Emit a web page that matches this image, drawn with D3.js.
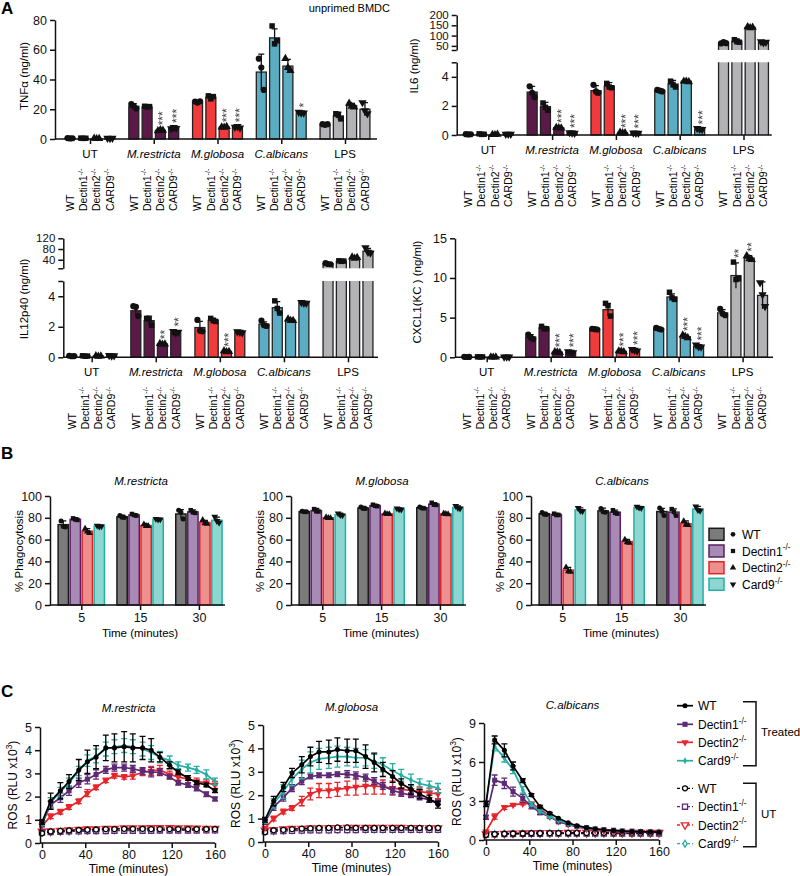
<!DOCTYPE html>
<html><head><meta charset="utf-8">
<script src="https://cdn.jsdelivr.net/npm/d3@7"></script>
<style>body{margin:0;background:#fff}svg{display:block}.stars{will-change:transform}</style>
</head><body>
<svg id="c" width="800" height="876"></svg>
<script>
// ---------------- DATA ----------------
const genotypes = ["WT","Dectin1","Dectin2","CARD9"];
const genoSup = ["","-/-","-/-","-/-"];
const stimuli = ["UT","M.restricta","M.globosa","C.albicans","LPS"];
const stimItalic = [false,true,true,true,false];

// Panel A (order: UT x4, M.restricta x4, M.globosa x4, C.albicans x4, LPS x4; WT, Dectin1, Dectin2, CARD9)
const tnfMean = [0.5,0.5,0.3,0.5, 22,21.5,5.8,7.3, 25,28,8,8, 45,68,49,17.5, 9.8,15.5,22.5,20];
const tnfSD   = [0.3,0.3,0.3,0.3, 1.8,0.5,0.7,0.8, 0.6,1.8,0.5,0.6, 12,6,4.5,1, 0.8,2.5,1.5,4.5];
const tnfPts  = [[0.6,0.4,0.5],[0.6,0.4,0.5],[0.4,0.2,0.3],[0.6,0.4,0.5],
  [23.5,22,20.5],[22,21.5,21.8],[5.5,6.2,5.8],[7,7.8,7.2],
  [25.2,24.5,25.3],[29,27,28.5],[8,7.8,8.3],[8,8.5,7.5],
  [54,48,33],[76,64,66],[54,48,46],[18,17.5,17.5],
  [10,9.5,10],[17,16,13.5],[24,22,21.5],[24.5,19,17]];
const tnfStars = ["","","","", "","","***","***", "","","***","***", "","","","*", "","","",""];

const il6Mean = [0.05,0.05,0.03,0.05, 2.95,1.95,0.5,0.15, 3.05,3.35,0.15,0.13, 3.05,3.5,3.7,0.4, 65,72,140,68];
const il6SD   = [0.02,0.05,0.02,0.02, 0.4,0.3,0.05,0.05, 0.35,0.25,0.05,0.05, 0.1,0.25,0.1,0.05, 6,12,8,6];
const il6Pts  = [[0.06,0.04,0.05],[0.08,0.04,0.05],[0.03,0.02,0.04],[0.05,0.05,0.05],
  [3.35,2.9,2.6],[2.2,1.9,1.7],[0.52,0.5,0.48],[0.17,0.15,0.13],
  [3.45,3.0,2.9],[3.55,3.3,3.25],[0.18,0.15,0.15],[0.15,0.13,0.12],
  [3.1,3.05,3.0],[3.7,3.45,3.3],[3.7,3.7,3.65],[0.45,0.4,0.38],
  [62,68,63],[80,70,68],[143,138,140],[70,66,68]];
const il6Stars = ["","","","", "","","***","***", "","","***","***", "","","","***", "","","",""];

const il12Mean = [0.08,0.08,0.08,0.1, 3.05,2.4,0.87,1.65, 1.95,2.42,0.38,1.65, 2.17,3.25,2.43,3.57, 25,35,48,72];
const il12SD   = [0.03,0.03,0.03,0.03, 0.3,0.3,0.05,0.1, 0.4,0.15,0.05,0.05, 0.15,0.4,0.1,0.05, 3,2,4,10];
const il12Pts  = [[0.1,0.07,0.08],[0.1,0.07,0.08],[0.1,0.07,0.08],[0.12,0.09,0.1],
  [3.35,3.3,2.7],[2.55,2.5,2.1],[0.9,0.85,0.87],[1.7,1.6,1.65],
  [2.45,1.75,1.7],[2.55,2.4,2.35],[0.42,0.36,0.37],[1.68,1.65,1.62],
  [2.4,2.1,2.05],[3.7,3.2,2.9],[2.5,2.4,2.4],[3.6,3.55,3.55],
  [27,24,23],[36,34,35],[50,45,48],[85,68,65]];
const il12Stars = ["","","","", "","","**","**", "","","***","", "","","","", "","","",""];

const kcMean = [0.05,0.05,0.02,0.05, 2.55,3.7,0.65,0.65, 3.55,6.0,0.75,0.9, 3.6,7.6,2.6,1.4, 5.6,10.3,12.5,7.8];
const kcSD   = [0.02,0.02,0.02,0.02, 0.3,0.2,0.1,0.1, 0.1,0.8,0.1,0.15, 0.1,0.4,0.2,0.2, 0.4,1.6,0.3,1.7];
const kcPts  = [[0.06,0.04,0.05],[0.06,0.04,0.05],[0.03,0.01,0.02],[0.06,0.04,0.05],
  [2.85,2.5,2.3],[3.9,3.6,3.6],[0.7,0.65,0.6],[0.7,0.65,0.6],
  [3.6,3.55,3.5],[6.8,6.5,5.2],[0.8,0.75,0.7],[1.0,0.9,0.8],
  [3.7,3.6,3.5],[8.2,7.5,7.3],[2.8,2.6,2.45],[1.55,1.35,1.3],
  [6.1,5.5,5.3],[12,9.8,9.9],[12.8,12.4,12.3],[9.4,7.9,6.4]];
const kcStars = ["","","","", "","","***","***", "","","***","***", "","","***","***", "","**","**",""];

// Panel B (order: 5 min x4, 15 min x4, 30 min x4; WT, Dectin1, Dectin2, Card9)
const phTimes = ["5","15","30"];
const phGenos = ["WT","Dectin1","Dectin2","Card9"];
const phMR = [73.7,78.6,67.7,72.3, 80.9,82.6,72.9,78.6, 83.5,85.4,75.7,77.7];
const phMRsd = [3.5,1.5,2.5,0.8, 1.5,1.2,1.5,0.5, 4,2,2,3];
const phMRpts = [[77,72,71.5],[79.5,78.5,78],[70,67.5,66],[72.8,72,72.2],
  [82,80.5,80.2],[83.5,82.5,82],[74,72.5,72.4],[79,78.4,78.5],
  [87,85,79],[87,85,84.5],[78,75,74.5],[81,77,75.5]];
const phMG = [85.7,86.6,80,82.9, 89,91.2,83.6,88, 89.2,92.5,83.6,89.4];
const phMGsd = [0.8,2,0.8,1.5, 1.5,1.2,0.8,0.8, 1,1.5,0.8,1.5];
const phMGpts = [[86,85.5,85.6],[88,86,85.8],[80.5,79.8,79.7],[84,82.5,82.2],
  [90,88.5,88.5],[92,91,90.6],[84,83.4,83.4],[88.6,87.8,87.6],
  [90,89,88.7],[93.8,92,91.8],[84,83.5,83.3],[90.8,89,88.5]];
const phCA = [83.7,83,32,87.2, 86.3,85.1,58.2,89.5, 85.7,85.2,74.6,88];
const phCAsd = [1.5,1,2.5,2, 2.5,2,2,0.8, 3,3,2.5,2.5];
const phCApts = [[84.8,83.2,83],[83.8,82.6,82.6],[34.5,31,30.5],[89,86.5,86],
  [88.5,85.5,85],[87,84.5,83.8],[60,57.5,57],[90.2,89.3,89],
  [89,86,82],[88,85.5,82],[77,73.5,73.3],[90.5,87,86.5]];

// Panel C
const rosTime = [0,8,17,25,34,42,50,59,67,76,84,93,101,109,118,126,135,143,152,160];
const rosSeries = ["WT","Dectin1","Dectin2","Card9"];
const mrWT = [0.9,1.8,2.25,2.65,3.15,3.5,3.7,4.1,4.1,4.15,4.1,4.1,4.0,3.7,3.35,3.05,2.8,2.6,2.5,2.25];
const mrD1 = [0.8,1.65,1.95,2.25,2.6,2.75,2.95,3.15,3.25,3.25,3.2,3.1,3.05,3.05,2.85,2.6,2.5,2.35,2.1,1.9];
const mrD2 = [0.75,1.15,1.35,1.55,1.8,2.15,2.4,2.7,2.9,2.85,2.9,3.05,3.1,3.15,2.95,2.85,2.75,2.65,2.6,2.5];
const mrC9 = [0.85,1.75,2.2,2.6,3.1,3.55,3.75,4.05,4.15,4.2,4.15,4.05,3.9,3.7,3.55,3.35,3.25,3.15,2.95,2.65];
const mrWTe = [0.1,0.35,0.35,0.3,0.45,0.5,0.5,0.55,0.6,0.65,0.6,0.5,0.5,0.2,0.15,0.1,0.1,0.08,0.08,0.08];
const mrD1e = [0.1,0.15,0.2,0.2,0.2,0.2,0.2,0.15,0.15,0.15,0.15,0.15,0.2,0.15,0.1,0.1,0.1,0.1,0.1,0.08];
const mrD2e = [0.05,0.1,0.1,0.1,0.1,0.15,0.1,0.1,0.1,0.1,0.15,0.15,0.2,0.2,0.15,0.15,0.15,0.15,0.15,0.15];
const mrC9e = [0.1,0.2,0.2,0.2,0.2,0.25,0.3,0.3,0.3,0.3,0.3,0.3,0.3,0.25,0.2,0.15,0.15,0.15,0.2,0.15];
const mrUTwt = [0.42,0.5,0.52,0.54,0.56,0.57,0.58,0.6,0.6,0.61,0.61,0.61,0.6,0.6,0.6,0.6,0.6,0.6,0.6,0.6];
const mrUTd1 = [0.45,0.47,0.48,0.5,0.5,0.51,0.52,0.52,0.53,0.53,0.53,0.53,0.53,0.54,0.54,0.54,0.54,0.54,0.55,0.55];
const mrUTd2 = [0.5,0.52,0.54,0.56,0.58,0.6,0.6,0.62,0.62,0.64,0.64,0.64,0.65,0.65,0.65,0.64,0.64,0.63,0.62,0.62];
const mrUTc9 = [0.45,0.47,0.49,0.5,0.52,0.53,0.54,0.55,0.55,0.56,0.56,0.56,0.57,0.57,0.57,0.57,0.57,0.58,0.58,0.58];

const mgWT = [0.95,1.75,2.35,2.95,3.3,3.65,3.85,3.85,3.95,3.9,3.9,3.65,3.4,3.1,2.8,2.5,2.25,2.05,1.85,1.6];
const mgD1 = [0.85,1.5,1.9,2.3,2.6,2.8,2.85,2.85,2.9,2.9,2.85,2.75,2.6,2.4,2.2,2.1,2.0,1.9,1.8,1.7];
const mgD2 = [0.6,1.0,1.3,1.45,1.75,2.05,2.2,2.2,2.25,2.3,2.35,2.4,2.4,2.35,2.3,2.25,2.2,2.15,2.1,2.05];
const mgC9 = [0.9,1.65,2.15,2.7,3.1,3.4,3.55,3.6,3.65,3.65,3.6,3.6,3.45,3.3,3.05,2.85,2.65,2.5,2.4,2.3];
const mgWTe = [0.1,0.2,0.2,0.2,0.35,0.4,0.45,0.5,0.5,0.5,0.5,0.5,0.4,0.3,0.25,0.2,0.2,0.2,0.15,0.15];
const mgD1e = [0.1,0.15,0.15,0.15,0.15,0.1,0.1,0.1,0.1,0.15,0.15,0.15,0.15,0.15,0.15,0.15,0.1,0.1,0.1,0.1];
const mgD2e = [0.05,0.1,0.1,0.1,0.2,0.25,0.3,0.3,0.3,0.3,0.35,0.35,0.35,0.3,0.3,0.25,0.25,0.2,0.2,0.2];
const mgC9e = [0.1,0.2,0.3,0.3,0.4,0.45,0.45,0.45,0.45,0.4,0.4,0.35,0.3,0.3,0.3,0.25,0.25,0.2,0.2,0.2];
const mgUTwt = [0.42,0.5,0.52,0.55,0.57,0.58,0.6,0.6,0.62,0.62,0.6,0.6,0.6,0.6,0.6,0.6,0.6,0.6,0.6,0.6];
const mgUTd1 = [0.45,0.46,0.47,0.48,0.49,0.5,0.5,0.5,0.51,0.51,0.51,0.52,0.52,0.52,0.52,0.52,0.52,0.52,0.52,0.52];
const mgUTd2 = [0.5,0.52,0.55,0.57,0.58,0.6,0.6,0.61,0.61,0.62,0.62,0.62,0.62,0.62,0.62,0.62,0.61,0.61,0.6,0.6];
const mgUTc9 = [0.45,0.47,0.49,0.5,0.5,0.52,0.52,0.53,0.53,0.53,0.54,0.54,0.54,0.54,0.54,0.55,0.55,0.55,0.55,0.55];

const caWT = [2.77,7.7,6.9,5.7,4.56,3.46,2.56,2.05,1.67,1.33,1.1,0.95,0.85,0.77,0.72,0.68,0.65,0.63,0.62,0.6];
const caD1 = [1.74,4.6,4.36,3.72,3.2,2.6,2.1,1.8,1.4,1.2,1.05,0.95,0.85,0.8,0.75,0.7,0.68,0.65,0.63,0.6];
const caD2 = [0.65,1.8,2.5,2.7,2.8,2.8,2.4,1.8,1.45,1.2,1.0,0.85,0.75,0.7,0.65,0.62,0.6,0.6,0.58,0.58];
const caC9 = [2.8,7.2,6.3,5.4,3.85,2.75,2.2,1.8,1.5,1.25,1.05,0.92,0.82,0.75,0.7,0.67,0.65,0.63,0.62,0.6];
const caWTe = [0.2,0.3,0.5,0.3,0.15,0.1,0.1,0.08,0.05,0.05,0.05,0.05,0.05,0.05,0.05,0.05,0.05,0.05,0.05,0.05];
const caD1e = [0.15,0.4,0.4,0.35,0.3,0.2,0.15,0.1,0.08,0.05,0.05,0.05,0.05,0.05,0.05,0.05,0.05,0.05,0.05,0.05];
const caD2e = [0.05,0.2,0.15,0.1,0.1,0.1,0.1,0.08,0.05,0.05,0.05,0.05,0.05,0.05,0.05,0.05,0.05,0.05,0.05,0.05];
const caC9e = [0.2,0.35,0.3,0.3,0.25,0.15,0.1,0.08,0.05,0.05,0.05,0.05,0.05,0.05,0.05,0.05,0.05,0.05,0.05,0.05];
const caUTwt = [0.4,0.45,0.48,0.5,0.5,0.52,0.52,0.53,0.53,0.54,0.54,0.54,0.55,0.55,0.55,0.55,0.55,0.55,0.55,0.55];
const caUTd1 = [0.42,0.44,0.45,0.46,0.47,0.48,0.48,0.49,0.5,0.5,0.5,0.5,0.5,0.5,0.5,0.5,0.5,0.5,0.5,0.5];
const caUTd2 = [0.45,0.48,0.5,0.52,0.53,0.54,0.55,0.56,0.56,0.57,0.57,0.57,0.57,0.57,0.57,0.57,0.57,0.57,0.57,0.57];
const caUTc9 = [0.42,0.45,0.47,0.48,0.49,0.5,0.5,0.51,0.51,0.52,0.52,0.52,0.52,0.52,0.52,0.52,0.52,0.52,0.52,0.52];

// ---------------- STYLE ----------------
const FONT = "'Liberation Sans', Arial, Helvetica, sans-serif";
const stimColors = ["#4a4a4a","#5a1947","#f03a3c","#5aadc2","#b3b3b6"];
const phFill = ["#7b7b7b","#a88bb5","#ee8f8f","#8ed6d0"];
const phStroke = ["#1a1a1a","#5a1f62","#e0252a","#24b0a5"];
const rosColors = ["#000000","#5e2a76","#e8242a","#26ada5"];
const symTypes = [d3.symbolCircle, d3.symbolSquare, d3.symbolTriangle, d3.symbolTriangle];
const symRot = [0,0,0,180];
const fmtInt = d3.format("d");

const svg = d3.select("#c").attr("font-family", FONT);

function supText(sel, base, sup, fs) {
  sel.append("tspan").text(base);
  if (sup) sel.append("tspan").attr("dy", -fs*0.42).attr("font-size", fs*0.68).text(sup);
}
function styleAxis(s, fs) {
  s.selectAll("path.domain").attr("stroke","#111").attr("stroke-width",1.5);
  s.selectAll(".tick line").attr("stroke","#111").attr("stroke-width",1.5);
  s.selectAll(".tick text").attr("font-size",fs).attr("font-family",FONT).attr("fill","#111");
}

// Panel letters
[["A",14],["B",459],["C",697]].forEach(([t,y]) =>
  svg.append("text").attr("x",1).attr("y",y).attr("font-size",17).attr("font-weight","bold").text(t));
svg.append("text").attr("x",390).attr("y",12).attr("text-anchor","end").attr("font-size",11).text("unprimed BMDC");

// ---------------- PANEL A ----------------
function cytokine(cfg) {
  const g = svg.append("g");
  const sg = svg.append("g").attr("class","stars").attr("opacity",0.99);
  const gx = d3.scalePoint().domain(stimuli).range([cfg.first, cfg.last]);
  const ix = d3.scaleBand().domain(genotypes).range([-26.6,26.6]).paddingInner(0.25).paddingOuter(0.125);
  const bw = ix.bandwidth();
  const yl = d3.scaleLinear().domain(cfg.lowDom).range(cfg.lowRange);
  const yu = cfg.upDom ? d3.scaleLinear().domain(cfg.upDom).range(cfg.upRange) : null;
  const y0 = yl(0);
  stimuli.forEach((s, si) => genotypes.forEach((k, ki) => {
    const i = si*4 + ki;
    const m = cfg.mean[i], sd = cfg.sd[i];
    const x = gx(s) + ix(k), cx = x + bw/2;
    const col = stimColors[si];
    const broken = yu && m > cfg.lowDom[1];
    const ys = broken ? yu : yl;
    if (broken) {
      const yt = yl(cfg.lowDom[1]);
      g.append("rect").attr("x",x).attr("y",yt).attr("width",bw).attr("height",y0-yt).attr("fill",col);
      g.append("path").attr("d",`M${x},${yt}V${y0}M${x+bw},${yt}V${y0}`).attr("stroke","#222").attr("stroke-width",1.3).attr("fill","none");
      const ut = yu(m), ub = yu(cfg.upDom[0]);
      g.append("rect").attr("x",x).attr("y",ut).attr("width",bw).attr("height",ub-ut).attr("fill",col);
      g.append("path").attr("d",`M${x},${ub}V${ut}H${x+bw}V${ub}`).attr("stroke","#222").attr("stroke-width",1.3).attr("fill","none");
    } else {
      const yt = yl(m);
      g.append("rect").attr("x",x).attr("y",yt).attr("width",bw).attr("height",Math.max(0.6,y0-yt))
        .attr("fill",col).attr("stroke","#222").attr("stroke-width",1.3);
    }
    const lo = broken ? Math.max(cfg.upDom[0], m - sd) : Math.max(0, m - sd);
    const e1 = ys(m + sd), e0 = ys(lo);
    g.append("path").attr("d",`M${cx},${e0}V${e1}M${cx-3},${e1}H${cx+3}`).attr("stroke","#111").attr("stroke-width",1.3).attr("fill","none");
    const off = [-2.5, 0, 2.5];
    cfg.pts[i].forEach((p, pi) => {
      g.append("path").attr("d", d3.symbol().type(symTypes[ki]).size(30)())
        .attr("transform",`translate(${cx+off[pi]},${ys(p)}) rotate(${symRot[ki]})`).attr("fill","#111");
    });
    if (cfg.stars[i]) {
      const top = Math.min(e1, ...cfg.pts[i].map(p => ys(p))) - 4;
      const fs = 12;
      sg.append("text").attr("transform",`translate(${cx + 0.58*fs},${top}) rotate(-90)`)
        .attr("font-size",fs).attr("fill","#3a3a3a").text(cfg.stars[i]);
    }
  }));
  const la = g.append("g").attr("transform",`translate(${cfg.axisX},0)`)
    .call(d3.axisLeft(yl).tickValues(cfg.lowTicks).tickSize(5).tickSizeOuter(0).tickPadding(3)
      .tickFormat(d => cfg.lowLabels.includes(d) ? fmtInt(d) : ""));
  styleAxis(la, 12.5);
  if (yu) {
    const ua = g.append("g").attr("transform",`translate(${cfg.axisX},0)`)
      .call(d3.axisLeft(yu).tickValues(cfg.upTicks).tickSize(5).tickSizeOuter(0).tickPadding(3)
        .tickFormat(d => cfg.upLabels.includes(d) ? fmtInt(d) : ""));
    styleAxis(ua, 11.5);
  }
  const xa = g.append("g").attr("transform",`translate(0,${y0})`)
    .call(d3.axisBottom(gx).tickSize(5).tickFormat(""));
  xa.select(".domain").remove();
  styleAxis(xa, 12);
  g.append("line").attr("x1",cfg.axisX).attr("x2",cfg.xEnd).attr("y1",y0).attr("y2",y0).attr("stroke","#111").attr("stroke-width",1.5);
  stimuli.forEach((s, si) => {
    g.append("text").attr("x",gx(s)).attr("y",y0+19).attr("text-anchor","middle").attr("font-size",11.5)
      .attr("font-style", stimItalic[si] ? "italic" : "normal").text(s);
    genotypes.forEach((k, ki) => {
      const fs = 10.5;
      const t = g.append("text").attr("transform",`translate(${gx(s)+ix(k)+bw/2+0.36*fs},${y0+72}) rotate(-90)`)
        .attr("font-size",fs);
      supText(t, k, genoSup[ki], fs);
    });
  });
  g.append("text").attr("transform",`translate(${cfg.labelX},${cfg.labelY}) rotate(-90)`)
    .attr("text-anchor","middle").attr("font-size",11.5).text(cfg.label);
}

cytokine({mean:tnfMean, sd:tnfSD, pts:tnfPts, stars:tnfStars, first:90, last:345, axisX:55, xEnd:377,
  lowDom:[0,80], lowRange:[139,20], lowTicks:[0,20,40,60,80], lowLabels:[0,20,40,60,80],
  label:"TNFα (ng/ml)", labelX:28, labelY:76});
cytokine({mean:il6Mean, sd:il6SD, pts:il6Pts, stars:il6Stars, first:488.3, last:743.5, axisX:456.7, xEnd:771.7,
  lowDom:[0,5], lowRange:[135,62.3], lowTicks:[0,2,4,5], lowLabels:[0,2,4],
  upDom:[30,200], upRange:[50,15], upTicks:[30,50,100,150,200], upLabels:[50,100,150,200],
  label:"IL6 (ng/ml)", labelX:418, labelY:66});
cytokine({mean:il12Mean, sd:il12SD, pts:il12Pts, stars:il12Stars, first:91.7, last:348, axisX:63.3, xEnd:378,
  lowDom:[0,5], lowRange:[357.3,281], lowTicks:[0,2,4,5], lowLabels:[0,2,4],
  upDom:[8,120], upRange:[268.3,238.3], upTicks:[8,40,80,120], upLabels:[40,80,120],
  label:"IL12p40 (ng/ml)", labelX:28, labelY:299});
cytokine({mean:kcMean, sd:kcSD, pts:kcPts, stars:kcStars, first:486.7, last:742.6, axisX:455, xEnd:773,
  lowDom:[0,15], lowRange:[357.3,238.3], lowTicks:[0,5,10,15], lowLabels:[0,5,10,15],
  label:"CXCL1(KC ) (ng/ml)", labelX:421, labelY:292});

// ---------------- PANEL B ----------------
function phago(cfg) {
  const g = svg.append("g");
  const y = d3.scaleLinear().domain([0,100]).range([605,496]);
  const gx = d3.scalePoint().domain(phTimes).range([cfg.axisX+31.3, cfg.axisX+31.3+2*58.8]);
  const ix = d3.scaleBand().domain(phGenos).range([-24,24]).paddingInner(0.14).paddingOuter(0.07);
  const bw = ix.bandwidth();
  const y0 = y(0);
  phTimes.forEach((t, ti) => phGenos.forEach((k, ki) => {
    const i = ti*4 + ki;
    const m = cfg.mean[i], sd = cfg.sd[i];
    const x = gx(t) + ix(k), cx = x + bw/2;
    g.append("rect").attr("x",x).attr("y",y(m)).attr("width",bw).attr("height",y0-y(m))
      .attr("fill",phFill[ki]).attr("stroke",phStroke[ki]).attr("stroke-width",1.5);
    g.append("path").attr("d",`M${cx},${y(m-sd)}V${y(m+sd)}M${cx-3},${y(m+sd)}H${cx+3}`)
      .attr("stroke","#111").attr("stroke-width",1.2).attr("fill","none");
    const off = [-2.2,0,2.2];
    cfg.pts[i].forEach((p, pi) => {
      g.append("path").attr("d", d3.symbol().type(symTypes[ki]).size(20)())
        .attr("transform",`translate(${cx+off[pi]},${y(p)}) rotate(${symRot[ki]})`).attr("fill","#111");
    });
  }));
  const ya = g.append("g").attr("transform",`translate(${cfg.axisX},0)`)
    .call(d3.axisLeft(y).tickValues([0,20,40,60,80,100]).tickSize(5).tickSizeOuter(0).tickPadding(3).tickFormat(fmtInt));
  styleAxis(ya, 12.5);
  const xa = g.append("g").attr("transform",`translate(0,${y0})`)
    .call(d3.axisBottom(gx).tickSize(5).tickPadding(3));
  xa.select(".domain").remove();
  styleAxis(xa, 12.5);
  g.append("line").attr("x1",cfg.axisX).attr("x2",cfg.axisX+175).attr("y1",y0).attr("y2",y0).attr("stroke","#111").attr("stroke-width",1.5);
  g.append("text").attr("x",cfg.axisX+90).attr("y",637).attr("text-anchor","middle").attr("font-size",11.5).text("Time (minutes)");
  g.append("text").attr("x",cfg.axisX+91).attr("y",484.5).attr("text-anchor","middle").attr("font-size",11.5)
    .attr("font-style","italic").text(cfg.title);
  g.append("text").attr("transform",`translate(${cfg.axisX-27},551) rotate(-90)`).attr("text-anchor","middle")
    .attr("font-size",11.5).text("% Phagocytosis");
}
phago({axisX:50, title:"M.restricta", mean:phMR, sd:phMRsd, pts:phMRpts});
phago({axisX:291, title:"M.globosa", mean:phMG, sd:phMGsd, pts:phMGpts});
phago({axisX:531, title:"C.albicans", mean:phCA, sd:phCAsd, pts:phCApts});

// legend B
const legB = svg.append("g");
const legBy = [534.3, 551, 567.7, 584.3];
phGenos.forEach((k, ki) => {
  legB.append("rect").attr("x",709).attr("y",legBy[ki]-6).attr("width",15).attr("height",12)
    .attr("fill",phFill[ki]).attr("stroke",phStroke[ki]).attr("stroke-width",1.5);
  legB.append("path").attr("d", d3.symbol().type(symTypes[ki]).size(18)())
    .attr("transform",`translate(733,${legBy[ki]}) rotate(${symRot[ki]})`).attr("fill","#111");
  const t = legB.append("text").attr("x",742).attr("y",legBy[ki]+4.5).attr("font-size",12);
  supText(t, k, ki ? "-/-" : "", 12);
});

// ---------------- PANEL C ----------------
const rosSym = [d3.symbolCircle, d3.symbolSquare, d3.symbolTriangle, d3.symbolDiamond];
const rosSymSize = [20, 26, 24, 14];
const rosSymRot = [0, 0, 180, 0];
function ros(cfg) {
  const g = svg.append("g");
  const x = d3.scaleLinear().domain([0,160]).range(cfg.xr);
  const y = d3.scaleLinear().domain(cfg.yDom).range(cfg.yr);
  const line = d3.line().x((d,i) => x(rosTime[i])).y(d => y(d));
  [3,2,1,0].forEach(si => {
    const d = cfg.ut[si];
    g.append("path").attr("d", line(d)).attr("fill","none").attr("stroke",rosColors[si])
      .attr("stroke-width",1.3).attr("stroke-dasharray","3,2");
    d.forEach((v, i) => g.append("path").attr("d", d3.symbol().type(rosSym[si]).size(rosSymSize[si])())
      .attr("transform",`translate(${x(rosTime[i])},${y(v)}) rotate(${rosSymRot[si]})`)
      .attr("fill","#fff").attr("stroke",rosColors[si]).attr("stroke-width",1.3));
  });
  [2,1,3,0].forEach(si => {
    const d = cfg.tr[si], e = cfg.err[si];
    g.append("path").attr("d", line(d)).attr("fill","none").attr("stroke",rosColors[si]).attr("stroke-width",1.7);
    d.forEach((v, i) => {
      const cx = x(rosTime[i]);
      if (e[i] > 0.06) {
        g.append("path").attr("d",`M${cx},${y(v-e[i])}V${y(v+e[i])}M${cx-3},${y(v+e[i])}H${cx+3}M${cx-3},${y(v-e[i])}H${cx+3}`)
          .attr("stroke",rosColors[si]).attr("stroke-width",1.3).attr("fill","none");
      }
      g.append("path").attr("d", d3.symbol().type(rosSym[si]).size(rosSymSize[si])())
        .attr("transform",`translate(${cx},${y(v)}) rotate(${rosSymRot[si]})`).attr("fill",rosColors[si]);
    });
  });
  const ya = g.append("g").attr("transform",`translate(${cfg.axisX},0)`)
    .call(d3.axisLeft(y).tickValues(cfg.yTicks).tickSize(5).tickSizeOuter(0).tickPadding(3).tickFormat(fmtInt));
  styleAxis(ya, 12.5);
  const xa = g.append("g").attr("transform",`translate(0,${cfg.yr[0]})`)
    .call(d3.axisBottom(x).tickValues([0,40,80,120,160]).tickSize(5).tickSizeOuter(0).tickPadding(2).tickFormat(fmtInt));
  xa.select(".domain").remove();
  styleAxis(xa, 12.5);
  g.append("line").attr("x1",cfg.axisX).attr("x2",cfg.xr[1]).attr("y1",cfg.yr[0]).attr("y2",cfg.yr[0]).attr("stroke","#111").attr("stroke-width",1.5);
  const mid = (cfg.xr[0]+cfg.xr[1])/2;
  g.append("text").attr("x",mid).attr("y",cfg.yr[0]+30).attr("text-anchor","middle").attr("font-size",12).text("Time (minutes)");
  g.append("text").attr("x",mid).attr("y",cfg.titleY).attr("text-anchor","middle").attr("font-size",11.5)
    .attr("font-style","italic").text(cfg.title);
  const yl = g.append("text").attr("transform",`translate(${cfg.axisX-23},${(cfg.yr[0]+cfg.yr[1])/2}) rotate(-90)`)
    .attr("text-anchor","middle").attr("font-size",12);
  yl.append("tspan").text("ROS (RLU x10");
  yl.append("tspan").attr("dy",-5).attr("font-size",8.5).text("3");
  yl.append("tspan").attr("dy",5).text(")");
}
ros({xr:[42,215], yDom:[0,5], yr:[843,727], axisX:40, yTicks:[0,1,2,3,4,5], title:"M.restricta", titleY:711.5,
  tr:[mrWT,mrD1,mrD2,mrC9], err:[mrWTe,mrD1e,mrD2e,mrC9e], ut:[mrUTwt,mrUTd1,mrUTd2,mrUTc9]});
ros({xr:[265,438], yDom:[0,5], yr:[842,725], axisX:263, yTicks:[0,1,2,3,4,5], title:"M.globosa", titleY:710.5,
  tr:[mgWT,mgD1,mgD2,mgC9], err:[mgWTe,mgD1e,mgD2e,mgC9e], ut:[mgUTwt,mgUTd1,mgUTd2,mgUTc9]});
ros({xr:[486,659], yDom:[0,9], yr:[840,723], axisX:484, yTicks:[0,3,6,9], title:"C.albicans", titleY:709,
  tr:[caWT,caD1,caD2,caC9], err:[caWTe,caD1e,caD2e,caC9e], ut:[caUTwt,caUTd1,caUTd2,caUTc9]});

// legend C
const legC = svg.append("g");
const legCy = [705.7,724.3,742.3,760.7, 788.3,806.7,825,843.7];
legCy.forEach((yy, j) => {
  const si = j % 4, ut = j >= 4;
  legC.append("line").attr("x1",677).attr("x2",693).attr("y1",yy).attr("y2",yy).attr("stroke",rosColors[si])
    .attr("stroke-width", ut ? 1.3 : 1.7).attr("stroke-dasharray", ut ? "3,2" : null);
  legC.append("path").attr("d", d3.symbol().type(rosSym[si]).size(rosSymSize[si])())
    .attr("transform",`translate(685,${yy}) rotate(${rosSymRot[si]})`)
    .attr("fill", ut ? "#fff" : rosColors[si]).attr("stroke", ut ? rosColors[si] : "none").attr("stroke-width",1.3);
  const t = legC.append("text").attr("x",698).attr("y",yy+4.5).attr("font-size",12);
  supText(t, rosSeries[si], si ? "-/-" : "", 12);
});
legC.append("path").attr("d","M743,701.7H756V765.7H743M743,783.3H756V846.7H743").attr("fill","none").attr("stroke","#111").attr("stroke-width",1.5);
legC.append("text").attr("x",761).attr("y",736).attr("font-size",11.5).text("Treated");
legC.append("text").attr("x",761).attr("y",817.5).attr("font-size",11.5).text("UT");
</script>
</body></html>
